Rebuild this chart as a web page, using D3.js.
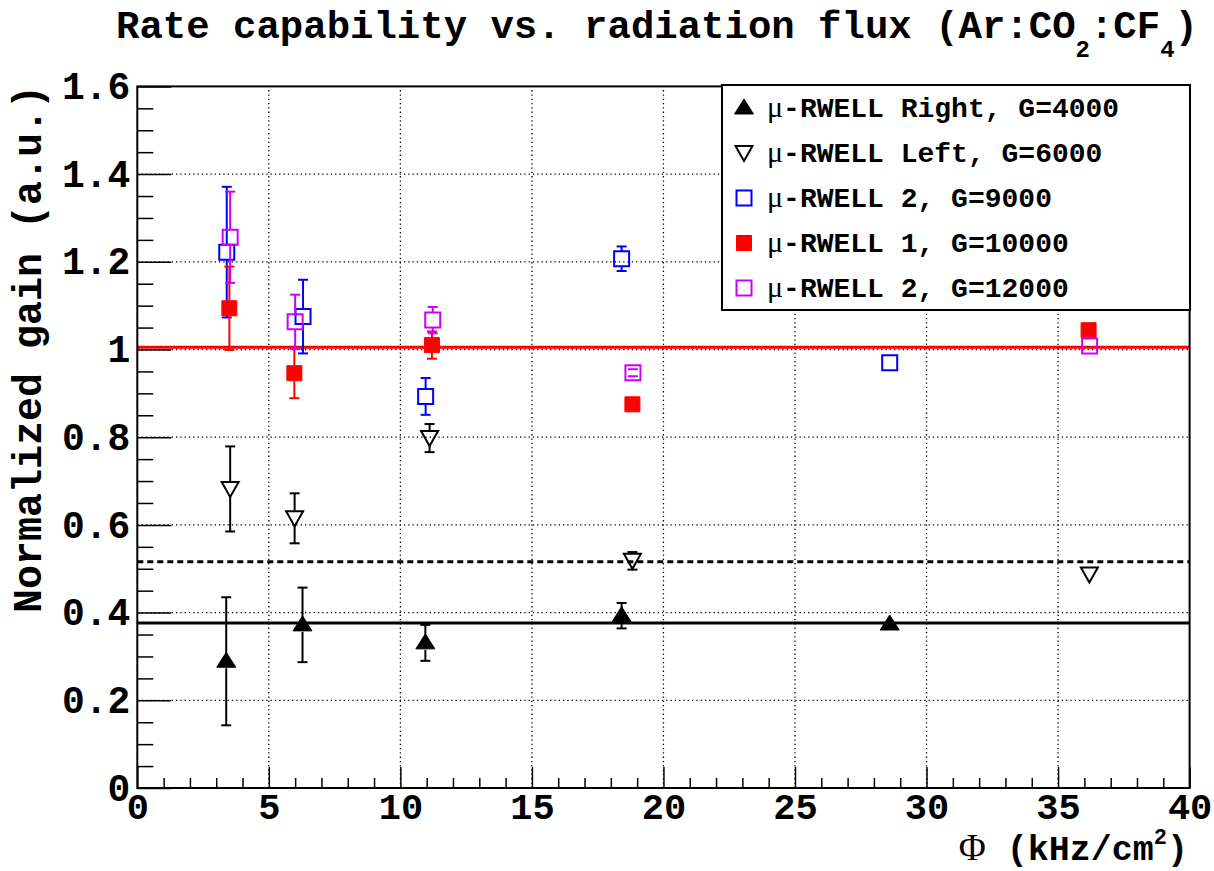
<!DOCTYPE html>
<html><head><meta charset="utf-8">
<script src="https://cdn.jsdelivr.net/npm/d3@7"></script>
<style>body{margin:0;background:#fff}text{font-family:"Liberation Mono",monospace;font-weight:bold}</style>
</head><body><svg id="c" width="1214" height="871"></svg>
<script>
// ---- data ----
const xRight = [3.38, 6.28, 10.95, 18.41, 28.6];
const yRight = [0.289, 0.372, 0.331, 0.393, 0.374];
const eRight = [0.146, 0.085, 0.041, 0.029, 0];

const xLeft = [3.53, 5.98, 11.11, 18.82, 36.19];
const yLeft = [0.682, 0.615, 0.798, 0.518, 0.487];
const eLeft = [0.097, 0.057, 0.032, 0.02, 0];

const xB9000 = [3.40, 6.30, 10.96, 18.41, 28.6];
const yB9000 = [1.222, 1.075, 0.893, 1.207, 0.970];
const eB9000 = [0.149, 0.084, 0.042, 0.028, 0];

const xR10000 = [3.50, 5.97, 11.20, 18.82, 36.16];
const yR10000 = [1.094, 0.946, 1.010, 0.875, 1.044];
const eR10000 = [0.095, 0.057, 0.031, 0.008, 0];

const xM12000 = [3.53, 6.00, 11.23, 18.84, 36.2];
const yM12000 = [1.256, 1.063, 1.067, 0.947, 1.008];
const eM12000 = [0.104, 0.062, 0.03, 0.008, 0];

const fitRed = 1.005, fitRight = 0.376, fitLeft = 0.516;

const xMajor = [0,5,10,15,20,25,30,35,40];
const yMajor = [0,0.2,0.4,0.6,0.8,1.0,1.2,1.4,1.6];
const legendLabels = ["-RWELL Right, G=4000","-RWELL Left, G=6000","-RWELL 2, G=9000","-RWELL 1, G=10000","-RWELL 2, G=12000"];

// ---- chart ----
const svg = d3.select("#c");
const x = d3.scaleLinear().domain([0,40]).range([137.3,1189.6]);
const y = d3.scaleLinear().domain([0,1.6]).range([788,86.4]);
const X0=x.range()[0], X1=x.range()[1], Y0=y.range()[0], Y1=y.range()[1];

// grid
const g = svg.append("g");
g.selectAll(".gx").data(xMajor.slice(1,-1)).enter().append("line")
 .attr("x1",d=>x(d)).attr("x2",d=>x(d)).attr("y1",Y0).attr("y2",Y1)
 .attr("stroke","#000").attr("stroke-width",1.3).attr("stroke-dasharray","1.3,3");
g.selectAll(".gy").data(yMajor.slice(1,-1)).enter().append("line")
 .attr("y1",d=>y(d)).attr("y2",d=>y(d)).attr("x1",X0).attr("x2",X1)
 .attr("stroke","#000").attr("stroke-width",1.3).attr("stroke-dasharray","1.3,3");

// axes ticks
const xMinor = d3.range(0,41,1).filter(v=>v%5!==0);
const yMinor = d3.range(0,33,1).map(i=>i*0.05).filter((v,i)=>i%4!==0);
svg.append("g").attr("transform",`translate(0,${Y0})`)
  .call(d3.axisBottom(x).tickValues(xMinor).tickSize(-10).tickFormat(""))
  .call(a=>{a.select(".domain").remove();a.selectAll("line").attr("stroke-width",1.5);});
svg.append("g").attr("transform",`translate(0,${Y0})`)
  .call(d3.axisBottom(x).tickValues(xMajor).tickSize(-21).tickPadding(5).tickFormat(d3.format("d")))
  .call(a=>{a.select(".domain").remove();a.selectAll("line").attr("stroke-width",1.5);
    a.selectAll("text").attr("font-size",37).attr("fill","#000").attr("font-family","Liberation Mono").attr("font-weight","bold");});
svg.append("g").attr("transform",`translate(${X0},0)`)
  .call(d3.axisLeft(y).tickValues(yMinor).tickSize(-16).tickFormat(""))
  .call(a=>{a.select(".domain").remove();a.selectAll("line").attr("stroke-width",1.5);});
svg.append("g").attr("transform",`translate(${X0},0)`)
  .call(d3.axisLeft(y).tickValues(yMajor).tickSize(-34).tickPadding(7)
     .tickFormat(d=>d===0?"0":(Math.abs(d-1)<1e-9?"1":d.toFixed(1))))
  .call(a=>{a.select(".domain").remove();a.selectAll("line").attr("stroke-width",1.5);
    a.selectAll("text").attr("font-size",38).attr("fill","#000").attr("font-family","Liberation Mono").attr("font-weight","bold");});

// fit lines
svg.append("line").attr("x1",X0).attr("x2",X1).attr("y1",y(fitRed)).attr("y2",y(fitRed)).attr("stroke","#ff0000").attr("stroke-width",3);
svg.append("line").attr("x1",X0).attr("x2",X1).attr("y1",y(fitRight)).attr("y2",y(fitRight)).attr("stroke","#000").attr("stroke-width",3);
svg.append("line").attr("x1",X0).attr("x2",X1).attr("y1",y(fitLeft)).attr("y2",y(fitLeft)).attr("stroke","#000").attr("stroke-width",3).attr("stroke-dasharray","6,4");

// marker shapes
function markerPath(type){
  if(type==="triUp") return "M0,-9 L9.5,6 L-9.5,6 Z";
  if(type==="triDown") return "M-8.5,-7 L8.5,-7 L0,8 Z";
  return "M-7.5,-7.5 L7.5,-7.5 L7.5,7.5 L-7.5,7.5 Z";
}
const series = [
  {xs:xRight, ys:yRight, es:eRight, type:"triUp", color:"#000", filled:true, half:7},
  {xs:xLeft, ys:yLeft, es:eLeft, type:"triDown", color:"#000", filled:false, half:7.5},
  {xs:xB9000, ys:yB9000, es:eB9000, type:"sq", color:"#0000ff", filled:false, half:7.5},
  {xs:xR10000, ys:yR10000, es:eR10000, type:"sq", color:"#ff0000", filled:true, half:7.5},
  {xs:xM12000, ys:yM12000, es:eM12000, type:"sq", color:"#cc00ff", filled:false, half:7.5},
];
series.forEach(s=>{
  const gg = svg.append("g");
  s.xs.forEach((xv,i)=>{
    const cx=x(xv), cy=y(s.ys[i]), top=y(s.ys[i]+s.es[i]), bot=y(s.ys[i]-s.es[i]);
    if(s.es[i]>0){
      if(cy-top>s.half){
        gg.append("line").attr("x1",cx).attr("x2",cx).attr("y1",top).attr("y2",cy-s.half).attr("stroke",s.color).attr("stroke-width",2);
        gg.append("line").attr("x1",cx).attr("x2",cx).attr("y1",cy+s.half).attr("y2",bot).attr("stroke",s.color).attr("stroke-width",2);
      }
      [top,bot].forEach(yy=>gg.append("line").attr("x1",cx-5).attr("x2",cx+5).attr("y1",yy).attr("y2",yy).attr("stroke",s.color).attr("stroke-width",2));
    }
    gg.append("path").attr("d",markerPath(s.type)).attr("transform",`translate(${cx},${cy})`)
      .attr("fill",s.filled?s.color:"none").attr("stroke",s.color).attr("stroke-width",s.filled?1:2);
  });
});

// frame
svg.append("rect").attr("x",X0).attr("y",Y1).attr("width",X1-X0).attr("height",Y0-Y1)
  .attr("fill","none").attr("stroke","#000").attr("stroke-width",2);

// legend
const lg = svg.append("g");
lg.append("rect").attr("x",722).attr("y",85).attr("width",468).attr("height",225)
  .attr("fill","#fff").attr("stroke","#000").attr("stroke-width",2);
legendLabels.forEach((lab,i)=>{
  const s=series[i], cy=108+i*45;
  lg.append("path").attr("d",markerPath(s.type)).attr("transform",`translate(744,${cy})`)
    .attr("fill",s.filled?s.color:"none").attr("stroke",s.color).attr("stroke-width",s.filled?1:2);
  const t=lg.append("text").attr("x",767).attr("y",cy+9).attr("font-size",28).attr("fill","#000");
  t.append("tspan").attr("font-family","Liberation Serif").attr("font-weight","normal").attr("font-size",30).text("μ");
  t.append("tspan").text(lab);
});

// title
const tt = svg.append("text").attr("x",116).attr("y",38).attr("font-size",39).attr("fill","#000");
tt.append("tspan").text("Rate capability vs. radiation flux (Ar:CO");
tt.append("tspan").attr("font-size",24).attr("dy",19).text("2");
tt.append("tspan").attr("dy",-19).text(":CF");
tt.append("tspan").attr("font-size",24).attr("dy",19).text("4");
tt.append("tspan").attr("dy",-19).text(")");

// axis titles
svg.append("text").attr("transform","translate(41,85) rotate(-90)").attr("text-anchor","end")
  .attr("font-size",40).attr("fill","#000").text("Normalized gain (a.u.)");
const xt = svg.append("text").attr("x",1188).attr("y",860).attr("text-anchor","end").attr("font-size",35).attr("fill","#000");
xt.append("tspan").attr("font-family","Liberation Serif").attr("font-weight","normal").attr("font-size",37).text("Φ");
xt.append("tspan").text(" (kHz/cm");
xt.append("tspan").attr("font-size",22).attr("dy",-16).text("2");
xt.append("tspan").attr("dy",16).text(")");
</script></body></html>
